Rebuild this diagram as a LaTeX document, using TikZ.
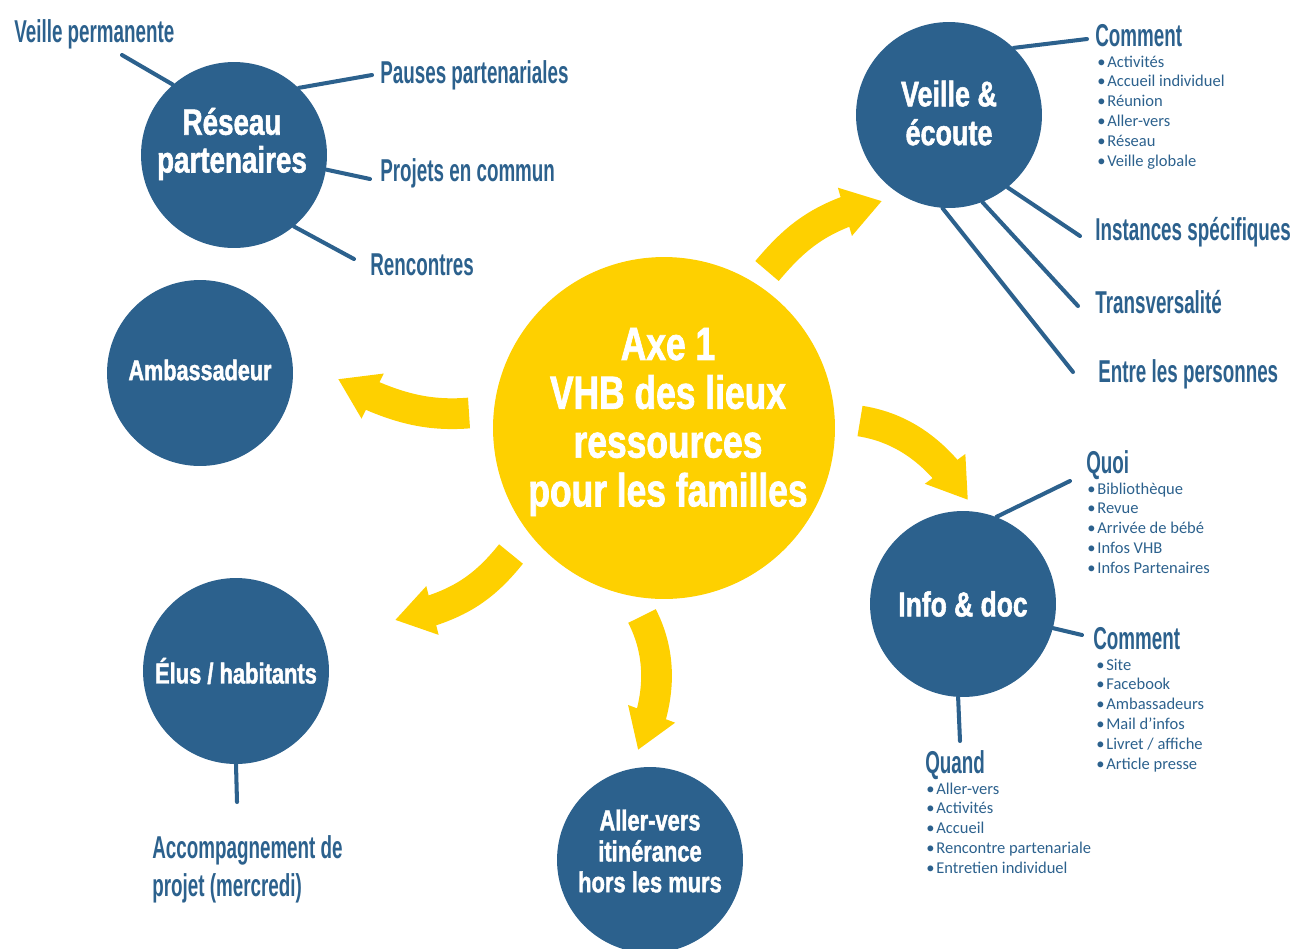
\documentclass[tikz,border=0pt]{standalone}
\usepackage{fontspec}
\setmainfont{Carlito}
\newfontfamily\circfont[FakeStretch=0.76,FakeBold=1.5]{Liberation Sans Bold}
\newfontfamily\sidefont[FakeStretch=0.595]{Liberation Sans Bold}
\usepackage{tikz}
\usetikzlibrary{
    arrows.meta,
    bending
}
\definecolor{vhbBlue}{RGB}{44, 97, 141}
\definecolor{vhbYellow}{RGB}{254, 208, 0}
\newcommand{\bul}{\makebox[5.7pt][l]{•}}

\begin{document}
\begin{tikzpicture}[x=0.02cm, y=-0.02cm,
    bubble/.style={circle, fill=vhbBlue, inner sep=0pt, minimum size=3.72cm},
    btext/.style={text=white, align=center, inner sep=0pt},
    twig/.style={draw=vhbBlue, line width=2.3pt, line cap=round},
    side/.style={text=vhbBlue, anchor=base west, inner sep=0pt, font=\sidefont\fontsize{18}{21.5}\selectfont},
    item/.style={text=vhbBlue, anchor=base west, inner sep=0pt, font=\fontsize{9.4}{11}\selectfont},
    sweep/.style={draw=vhbYellow, line width=17.5pt, -{Triangle[width=27pt,length=22pt]}}]
    \useasboundingbox (0,0) rectangle (1296,948);

    % Axe 1 in the middle
    \node[circle, fill=vhbYellow, inner sep=0pt, minimum size=6.84cm] (axe) at (664,428) {};
    \node[btext, font=\circfont\fontsize{26.5}{27.8}\selectfont] (axe-t) at (668,422)
        {Axe 1\\VHB des lieux\\ressources\\pour les familles};

    % the six blue bubbles
    \node[bubble] (res) at (234,155) {};
    \node[bubble] (amb) at (200,373) {};
    \node[bubble] (vei) at (949,115) {};
    \node[bubble] (info) at (963,604) {};
    \node[bubble] (elus) at (236,671) {};
    \node[bubble] (aller) at (650,860) {};
    \node[btext, font=\circfont\fontsize{20.8}{21.5}\selectfont] (res-t) at (232,144) {Réseau\\partenaires};
    \node[btext, font=\circfont\fontsize{16.2}{18}\selectfont] (amb-t) at (200,370) {Ambassadeur};
    \node[btext, font=\circfont\fontsize{20.2}{22.1}\selectfont] (vei-t) at (949,113) {Veille \&\\écoute};
    \node[btext, font=\circfont\fontsize{19.8}{22}\selectfont] (info-t) at (963,604) {Info \& doc};
    \node[btext, font=\circfont\fontsize{16.4}{18}\selectfont] (elus-t) at (236,671) {Élus / habitants};
    \node[btext, font=\circfont\fontsize{16.4}{17.6}\selectfont] (aller-t) at (650,851)
        {Aller-vers\\itinérance\\hors les murs};

    % yellow arrows out of the centre
    \coordinate (a1) at (767,271); \coordinate (b1) at (882,201);
    \coordinate (a2) at (860,421); \coordinate (b2) at (968,500);
    \coordinate (a3) at (469,413); \coordinate (b3) at (338,379);
    \coordinate (a4) at (511,554); \coordinate (b4) at (395,620);
    \coordinate (a5) at (642,616); \coordinate (b5) at (638,750);
    \draw[sweep] (a1) .. controls (795,238) and (820,215) .. (b1);
    \draw[sweep] (a2) .. controls (905,428) and (940,455) .. (b2);
    \draw[sweep] (a3) .. controls (430,416) and (395,410) .. (b3);
    \draw[sweep] (a4) .. controls (482,590) and (455,608) .. (b4);
    \draw[sweep] (a5) .. controls (662,655) and (662,700) .. (b5);

    % Reseau partenaires
    \node[side] (vp) at (14,42) {Veille permanente};
    \node[side] (pp) at (380,83) {Pauses partenariales};
    \node[side] (pc) at (380,181) {Projets en commun};
    \node[side] (rc) at (370,275) {Rencontres};
    \coordinate (vp-e) at (122,55);
    \coordinate (pp-e) at (372,75);
    \coordinate (pc-e) at (370,179);
    \coordinate (rc-e) at (354,259);
    \draw[twig] (res.131) -- (vp-e);
    \draw[twig] (res.46) -- (pp-e);
    \draw[twig] (res.-9) -- (pc-e);
    \draw[twig] (res.-50) -- (rc-e);

    % Veille & ecoute
    \node[side] (vc) at (1095,46) {Comment};
    \node[side] (is) at (1095,240) {Instances spécifiques};
    \node[side] (tr) at (1095,313) {Transversalité};
    \node[side] (ep) at (1098,382) {Entre les personnes};
    \coordinate (vc-e) at (1087,39);
    \coordinate (is-e) at (1080,236);
    \coordinate (tr-e) at (1078,306);
    \coordinate (ep-e) at (1073,372);
    \draw[twig] (vei.46) -- (vc-e);
    \draw[twig] (vei.-51) -- (is-e);
    \draw[twig] (vei.-69) -- (tr-e);
    \draw[twig] (vei.-94) -- (ep-e);
    \foreach \t [count=\i from 0] in {Activités, Accueil individuel, Réunion, Aller-vers, Réseau, Veille globale}
        \node[item] (vc-\i) at (1097,{67+19.8*\i}) {\bul\t};

    % Info & doc
    \node[side] (qo) at (1086,473) {Quoi};
    \node[side] (ic) at (1093,649) {Comment};
    \node[side] (qd) at (925,773) {Quand};
    \coordinate (qo-e) at (1070,481);
    \coordinate (ic-e) at (1082,635);
    \coordinate (qd-e) at (960,741);
    \draw[twig] (info.69) -- (qo-e);
    \draw[twig] (info.-15) -- (ic-e);
    \draw[twig] (info.-93) -- (qd-e);
    \foreach \t [count=\i from 0] in {Bibliothèque, Revue, Arrivée de bébé, Infos VHB, Infos Partenaires}
        \node[item] (qo-\i) at (1087,{494+19.8*\i}) {\bul\t};
    \foreach \t [count=\i from 0] in {Site, Facebook, Ambassadeurs, Mail d’infos, Livret / affiche, Article presse}
        \node[item] (ic-\i) at (1096,{670+19.8*\i}) {\bul\t};
    \foreach \t [count=\i from 0] in {Aller-vers, Activités, Accueil, Rencontre partenariale, Entretien individuel}
        \node[item] (qd-\i) at (926,{794+19.8*\i}) {\bul\t};

    % Elus / habitants
    \node[side, anchor=north west, align=left] (acc) at (152,835) {Accompagnement de\\projet (mercredi)};
    \coordinate (acc-e) at (237,802);
    \draw[twig] (elus.-90) -- (acc-e);
\end{tikzpicture}
\end{document}
